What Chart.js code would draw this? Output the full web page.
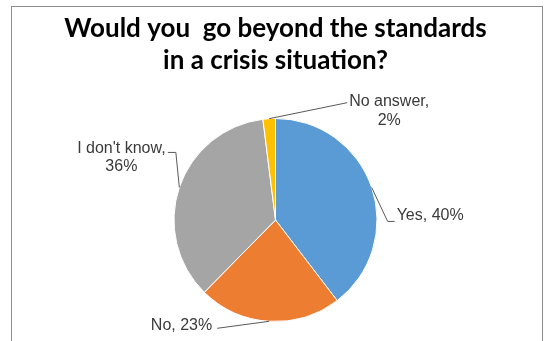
<!DOCTYPE html>
<html>
<head>
<meta charset="utf-8">
<script src="https://cdn.jsdelivr.net/npm/chart.js@4.4.0/dist/chart.umd.min.js"></script>
<style>
  html, body { margin: 0; padding: 0; background: #fff; }
  #wrap { width: 545px; height: 341px; }
</style>
</head>
<body>
<div id="wrap"><canvas id="crisis-chart" width="545" height="341"></canvas></div>
<script>
const categories = ["Yes", "No", "I don't know", "No answer"];
const percents = [40, 23, 36, 2];
const sliceColors = ["#5B9BD5", "#ED7D31", "#A5A5A5", "#FFC000"];
const titleLines = ["Would you  go beyond the standards", "in a crisis situation?"];

// leader line bends + text anchor, relative to the outer mid point of each slice
const leaders = [
  { path: [[16, 34], [23, 34]], text: [25, 28], align: "left", wrap: false },
  { path: [[-52, 7]], text: [-57, 4], align: "right", wrap: false },
  { path: [[-3.5, -35], [-11.5, -35]], text: [-58, -39], align: "center", wrap: true },
  { path: [[78, -16]], text: [120, -17], align: "center", wrap: true }
];

// outer frame, open at the bottom like the cropped original
const frame = {
  id: "frame",
  beforeDraw(chart) {
    const ctx = chart.ctx;
    ctx.save();
    ctx.strokeStyle = "#8c8c8c";
    ctx.lineWidth = 1;
    ctx.strokeRect(11.5, 6.5, 531, 400);
    ctx.restore();
  }
};

const pieLabels = {
  id: "pieLabels",
  afterDatasetsDraw(chart) {
    const ctx = chart.ctx;
    const arcs = chart.getDatasetMeta(0).data;
    ctx.save();
    ctx.font = "16px 'Liberation Sans', Arial, sans-serif";
    ctx.fillStyle = "#3a3a3a";
    ctx.strokeStyle = "#595959";
    ctx.lineWidth = 1;
    ctx.textBaseline = "middle";
    arcs.forEach((arc, i) => {
      const mid = (arc.startAngle + arc.endAngle) / 2;
      const ex = arc.x + Math.cos(mid) * arc.outerRadius;
      const ey = arc.y + Math.sin(mid) * arc.outerRadius;
      const l = leaders[i];
      ctx.beginPath();
      ctx.moveTo(ex, ey);
      l.path.forEach(p => ctx.lineTo(ex + p[0], ey + p[1]));
      ctx.stroke();
      const lines = l.wrap
        ? [categories[i] + ",", percents[i] + "%"]
        : [categories[i] + ", " + percents[i] + "%"];
      ctx.textAlign = l.align;
      lines.forEach((t, k) => ctx.fillText(t, ex + l.text[0], ey + l.text[1] + k * 18.5));
    });
    ctx.restore();
  }
};

const chart = new Chart(document.getElementById("crisis-chart"), {
  type: "pie",
  data: {
    labels: categories,
    datasets: [{
      data: percents,
      backgroundColor: sliceColors,
      borderColor: "#fff",
      borderWidth: 1
    }]
  },
  options: {
    responsive: false,
    animation: false,
    layout: { padding: { left: 6, right: 0, bottom: 19 } },
    plugins: {
      legend: { display: false },
      tooltip: { enabled: false },
      title: {
        display: true,
        text: titleLines,
        color: "#000",
        font: { family: "Lato", size: 26, weight: "bold", lineHeight: 1.24 },
        padding: { top: 12, bottom: 41.5 }
      }
    }
  },
  plugins: [frame, pieLabels]
});
</script>
</body>
</html>
